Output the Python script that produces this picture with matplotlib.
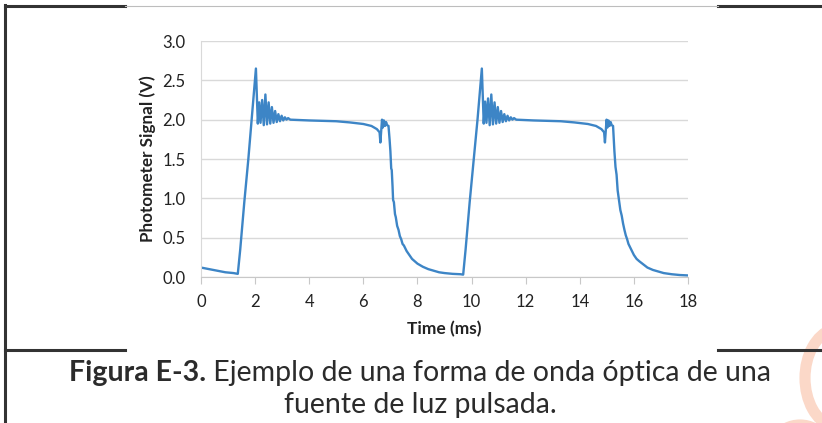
import matplotlib
matplotlib.use("Agg")
import matplotlib.pyplot as plt
from matplotlib.lines import Line2D
from matplotlib.patches import Arc

# ---- data ----
time_ms = [
    # cycle 1: baseline, rise, overshoot + ringing
    0.00, 0.30, 0.60, 0.90, 1.20, 1.36, 1.45, 1.60, 1.75, 1.87, 2.03,
    2.10, 2.15, 2.20, 2.26, 2.32, 2.38, 2.44, 2.50, 2.56, 2.62, 2.68, 2.74,
    2.80, 2.86, 2.92, 2.98, 3.04, 3.10, 3.16, 3.22, 3.30,
    # plateau, glitch, fall
    4.00, 5.00, 5.50, 6.00, 6.30, 6.50, 6.60, 6.63, 6.66, 6.69, 6.72, 6.76,
    6.80, 6.84, 6.88, 6.93,
    6.97, 7.00, 7.03, 7.05, 7.08, 7.10, 7.13, 7.17, 7.20, 7.25, 7.30, 7.35,
    7.40, 7.45, 7.50, 7.60, 7.70, 7.80, 7.90, 8.00, 8.20, 8.40, 8.60, 8.80,
    9.00, 9.30, 9.60,
    # cycle 2: rise, overshoot + ringing
    9.69, 9.78, 9.93, 10.08, 10.22, 10.38,
    10.45, 10.50, 10.55, 10.61, 10.67, 10.73, 10.79, 10.85, 10.91, 10.97,
    11.03, 11.09, 11.15, 11.21, 11.27, 11.33, 11.39, 11.45, 11.51, 11.57,
    11.65,
    # plateau, glitch, fall
    12.30, 13.30, 13.80, 14.30, 14.60, 14.80, 14.90, 14.93, 14.96, 14.99,
    15.02, 15.06, 15.10, 15.14, 15.18, 15.23,
    15.28, 15.32, 15.36, 15.40, 15.45, 15.50, 15.55, 15.60, 15.65, 15.70,
    15.75, 15.80, 15.90, 16.00, 16.10, 16.20, 16.35, 16.50, 16.70, 16.90,
    17.10, 17.40, 17.70, 18.00,
]
signal_v = [
    0.12, 0.10, 0.08, 0.06, 0.05, 0.04, 0.35, 0.95, 1.50, 2.00, 2.65,
    1.95, 2.22, 1.96, 2.25, 1.93, 2.32, 1.94, 2.22, 1.95, 2.16, 1.96, 2.11,
    1.97, 2.07, 1.98, 2.05, 1.99, 2.03, 2.00, 2.02, 2.00,
    1.99, 1.98, 1.965, 1.945, 1.92, 1.88, 1.84, 1.71, 1.86, 2.00, 1.90, 1.99,
    1.92, 1.97, 1.93, 1.92,
    1.75, 1.60, 1.38, 1.36, 1.15, 0.98, 0.95, 0.80, 0.76, 0.65, 0.60, 0.52,
    0.48, 0.42, 0.40, 0.33, 0.28, 0.23, 0.20, 0.17, 0.13, 0.10, 0.08, 0.06,
    0.05, 0.04, 0.035,
    0.03, 0.35, 0.95, 1.50, 2.00, 2.65,
    1.95, 2.23, 1.96, 2.27, 1.93, 2.32, 1.94, 2.22, 1.95, 2.16,
    1.96, 2.11, 1.97, 2.07, 1.98, 2.05, 1.99, 2.03, 2.00, 2.02,
    2.00,
    1.99, 1.98, 1.965, 1.945, 1.92, 1.88, 1.84, 1.71, 1.86, 2.00,
    1.90, 1.99, 1.92, 1.97, 1.93, 1.92,
    1.60, 1.40, 1.30, 1.10, 0.97, 0.85, 0.78, 0.68, 0.60, 0.53,
    0.48, 0.42, 0.35, 0.28, 0.23, 0.20, 0.16, 0.12, 0.09, 0.07,
    0.05, 0.035, 0.025, 0.02,
]
x_ticks = [0, 2, 4, 6, 8, 10, 12, 14, 16, 18]
y_ticks = [0.0, 0.5, 1.0, 1.5, 2.0, 2.5, 3.0]
x_label = "Time (ms)"
y_label = "Photometer Signal (V)"
caption_bold = "Figura E-3."
caption_rest = " Ejemplo de una forma de onda óptica de una"
caption_line2 = "fuente de luz pulsada."

W, H = 822, 423
fig = plt.figure(figsize=(W / 100, H / 100), dpi=100)
fig.patch.set_facecolor("white")

def fx(px):
    return px / W

def fy(py):
    return 1 - py / H

ax = fig.add_axes([fx(201), fy(277), fx(688) - fx(201), fy(41) - fy(277)])
ax.plot(time_ms, signal_v, color="#3d85c6", lw=1.7, solid_joinstyle="round")
ax.set_xlim(0, 18)
ax.set_ylim(0, 3.0)
ax.set_xticks(x_ticks)
ax.set_yticks(y_ticks)
ax.set_yticklabels([f"{v:.1f}" for v in y_ticks])
ax.grid(axis="y", color="#d9d9d9", lw=1.0)
ax.set_axisbelow(True)
for s in ["top", "right"]:
    ax.spines[s].set_visible(False)
ax.spines["left"].set_color("#d9d9d9")
ax.spines["bottom"].set_color("#c8c8c8")
ax.tick_params(axis="x", length=5, color="#c8c8c8", direction="out", pad=7,
               labelsize=12, labelcolor="#222222")
ax.tick_params(axis="y", length=0, pad=11, labelsize=12, labelcolor="#222222")
for lab in ax.get_xticklabels() + ax.get_yticklabels():
    lab.set_family("Lato")
ax.set_xlabel(x_label, family="Lato", fontweight="bold", fontsize=12.5,
              color="#222222", labelpad=8)
ax.set_ylabel(y_label, family="Lato", fontweight="bold", fontsize=12.3,
              color="#222222", labelpad=5)

# page frame lines
dark = "#333333"
fig.add_artist(Line2D([fx(5), fx(5)], [fy(5), 0], color=dark, lw=2.2))
fig.add_artist(Line2D([fx(5), fx(125)], [fy(6), fy(6)], color=dark, lw=2.2))
fig.add_artist(Line2D([fx(718), 1], [fy(6), fy(6)], color=dark, lw=2.2))
fig.add_artist(Line2D([fx(125), fx(718)], [fy(6), fy(6)], color="#bdbdbd", lw=0.8))
fig.add_artist(Line2D([fx(5), fx(125)], [fy(350), fy(350)], color=dark, lw=2.2))
fig.add_artist(Line2D([fx(718), 1], [fy(350), fy(350)], color=dark, lw=2.2))

# faint watermark arcs at right edge
fig.add_artist(Arc((fx(840), fy(378)), 70 / W, 100 / H, theta1=95, theta2=265,
                   color="#fbd8c8", lw=8, transform=fig.transFigure))
fig.add_artist(Arc((fx(800), fy(445)), 50 / W, 40 / H, theta1=30, theta2=150,
                   color="#fbd8c8", lw=8, transform=fig.transFigure))

# caption
fig.canvas.draw()
r = fig.canvas.get_renderer()
tb = fig.text(0, fy(373), caption_bold, family="Lato", fontweight="bold",
              fontsize=20.5, color="#2b2b2b", va="center")
tr = fig.text(0, fy(373), caption_rest, family="Lato", fontsize=20.5,
              color="#2b2b2b", va="center")
wb = tb.get_window_extent(r).width
wr = tr.get_window_extent(r).width
x0 = 420 - (wb + wr) / 2
tb.set_x(fx(x0))
tr.set_x(fx(x0 + wb))
fig.text(fx(420), fy(405), caption_line2, family="Lato", fontsize=20.5,
         color="#2b2b2b", va="center", ha="center")

fig.savefig("out.png", dpi=100, facecolor="white")
